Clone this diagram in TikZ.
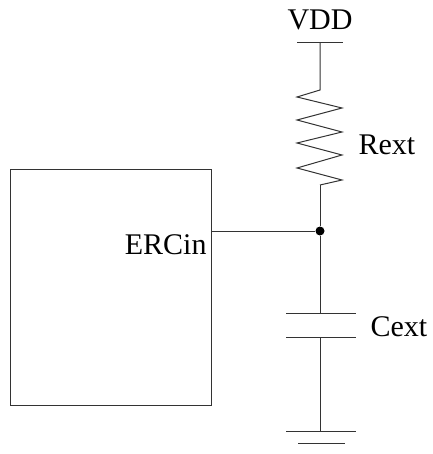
\documentclass[tikz,border=0pt]{standalone}
\usepackage{fontspec}
\setmainfont{Liberation Serif}
\begin{document}
\begin{tikzpicture}[x=1pt,y=-1pt,line width=1pt,
  lbl/.style={inner sep=0pt,font=\fontsize{30}{36}\selectfont},
  wire/.style={draw=black!80},
  dot/.style={circle,fill=black,inner sep=0pt,minimum size=9pt}]
\useasboundingbox (0,0) rectangle (432,454);
% box
\node[draw=black!80,minimum width=201pt,minimum height=235pt,inner sep=0pt] (chip) at (110.5,287.5) {};
\node[lbl,anchor=east] (ercin) at (207,245) {ERCin};
% supply
\node[lbl] (vdd) at (320,20) {VDD};
\coordinate (vl) at (297,43);
\coordinate (vr) at (343,43);
\coordinate (vc) at (320,43);
\draw[wire] (vl) -- (vr);
\coordinate (rtop) at (320,90);
\coordinate (rbot) at (320,185);
\draw[wire] (vc) -- (rtop) -- (297,97) -- (342,108) -- (297,120) -- (342,132) -- (297,143) -- (342,155) -- (297,168) -- (342,180) -- (rbot);
\node[lbl,anchor=west] (rext) at (358,145) {Rext};
% junction
\node[dot] (j) at (320,231) {};
\coordinate (pin) at (211,231);
\draw[wire] (pin) -- (j);
\draw[wire] (rbot) -- (j);
% capacitor
\coordinate (c1) at (320,313);
\coordinate (c2) at (320,337);
\draw[wire] (j) -- (c1);
\draw[wire] (286,313) -- (356,313);
\draw[wire] (286,337) -- (356,337);
\node[lbl,anchor=west] (cext) at (370,327) {Cext};
% ground
\coordinate (g) at (320,431);
\draw[wire] (c2) -- (g);
\draw[wire] (286,431) -- (356,431);
\draw[wire] (298,443) -- (345,443);
\end{tikzpicture}
\end{document}
